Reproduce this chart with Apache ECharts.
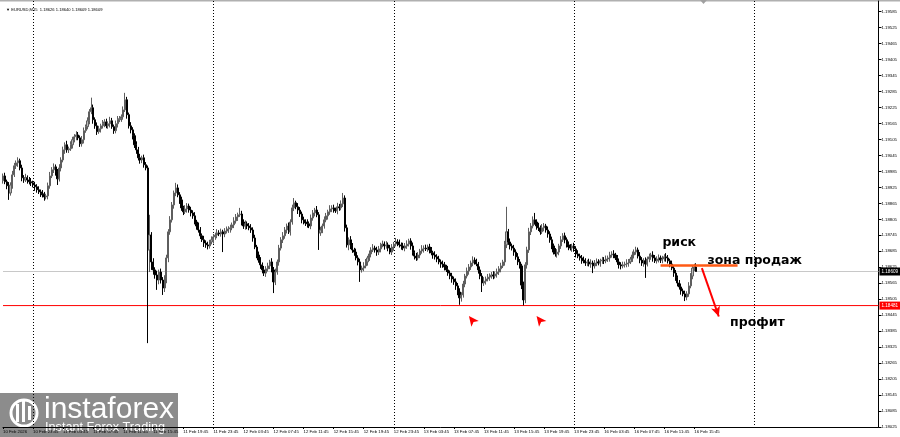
<!DOCTYPE html>
<html><head><meta charset="utf-8">
<script src="https://cdn.jsdelivr.net/npm/echarts@6/dist/echarts.min.js"></script>
<style>html,body{margin:0;padding:0;background:#fff}#c{width:900px;height:437px}</style>
</head><body><div id="c"></div>
<script>
// ---- data (prices in points: price = 1 + pts/100000) ----
const chartTitle = '\u25BC EURUSD,M15  1.18626 1.18640 1.18609 1.18609';
const tickLabels = ["10 Feb 2026","10 Feb 23:45","11 Feb 03:45","11 Feb 07:45","11 Feb 11:45","11 Feb 15:45","11 Feb 19:45","11 Feb 23:45","12 Feb 03:45","12 Feb 07:45","12 Feb 11:45","12 Feb 15:45","12 Feb 19:45","12 Feb 23:45","13 Feb 03:45","13 Feb 07:45","13 Feb 11:45","13 Feb 15:45","13 Feb 19:45","13 Feb 23:45","16 Feb 03:45","16 Feb 07:45","16 Feb 11:45","16 Feb 15:45"];
const openPts = [
18950,18968,18946,18931,18904,18934,18972,19006,19017,19025,
18998,18961,18953,18961,18953,18946,18942,18934,18927,18916,
18908,18901,18897,18889,18893,18931,18968,18991,19002,18983,
18957,18998,19028,19066,19085,19066,19070,19085,19104,19115,
19122,19111,19089,19104,19138,19153,19175,19209,19224,19179,
19156,19134,19145,19156,19164,19171,19156,19164,19175,19153,
19138,19164,19179,19183,19190,19216,19254,19198,19156,19141,
19119,19085,19066,19036,19028,19036,19010,18998,18690,18746,
18645,18615,18596,18577,18607,18577,18547,18577,18660,18758,
18803,18859,18904,18923,18897,18878,18848,18833,18844,18855,
18840,18829,18818,18795,18780,18765,18743,18728,18716,18709,
18705,18720,18728,18739,18746,18754,18750,18758,18750,18761,
18765,18769,18773,18784,18799,18814,18822,18825,18795,18780,
18788,18780,18773,18765,18735,18701,18671,18652,18634,18615,
18603,18619,18630,18645,18615,18570,18607,18645,18697,18728,
18743,18765,18780,18758,18795,18848,18867,18852,18840,18825,
18803,18795,18791,18788,18780,18810,18829,18840,18822,18754,
18765,18780,18803,18818,18833,18844,18848,18840,18837,18852,
18848,18863,18885,18773,18709,18728,18705,18690,18682,18660,
18645,18615,18622,18630,18645,18660,18675,18690,18697,18690,
18682,18694,18709,18712,18705,18709,18697,18682,18701,18712,
18720,18716,18709,18705,18697,18705,18712,18724,18705,18679,
18667,18660,18671,18686,18694,18697,18694,18701,18690,18679,
18671,18664,18656,18645,18637,18634,18626,18615,18603,18592,
18581,18570,18555,18532,18510,18521,18562,18592,18611,18626,
18641,18652,18645,18637,18615,18592,18566,18573,18581,18588,
18592,18596,18592,18600,18607,18619,18630,18645,18709,18758,
18720,18705,18697,18682,18664,18645,18630,18558,18502,18634,
18690,18758,18780,18803,18795,18780,18773,18758,18773,18780,
18765,18750,18728,18705,18682,18675,18682,18705,18728,18743,
18728,18709,18701,18697,18705,18694,18675,18667,18660,18652,
18649,18641,18645,18637,18641,18630,18641,18645,18641,18649,
18652,18649,18656,18660,18671,18675,18671,18660,18645,18634,
18630,18634,18637,18641,18645,18656,18671,18682,18690,18667,
18652,18641,18649,18637,18656,18664,18671,18660,18649,18656,
18660,18652,18656,18664,18660,18649,18637,18622,18603,18585,
18566,18551,18536,18525,18513,18525,18555,18592,18622,18626];
const closePts = [
18968,18946,18931,18904,18934,18972,19006,19017,19025,18998,
18961,18953,18961,18953,18946,18942,18934,18927,18916,18908,
18901,18897,18889,18893,18931,18968,18991,19002,18983,18957,
18998,19028,19066,19085,19066,19070,19085,19104,19115,19122,
19111,19089,19104,19138,19153,19175,19209,19224,19179,19156,
19134,19145,19156,19164,19171,19156,19164,19175,19153,19138,
19164,19179,19183,19190,19216,19254,19198,19156,19141,19119,
19085,19066,19036,19028,19036,19010,18998,18690,18746,18645,
18615,18596,18577,18607,18577,18547,18577,18660,18758,18803,
18859,18904,18923,18897,18878,18848,18833,18844,18855,18840,
18829,18818,18795,18780,18765,18743,18728,18716,18709,18705,
18720,18728,18739,18746,18754,18750,18758,18750,18761,18765,
18769,18773,18784,18799,18814,18822,18825,18795,18780,18788,
18780,18773,18765,18735,18701,18671,18652,18634,18615,18603,
18619,18630,18645,18615,18570,18607,18645,18697,18728,18743,
18765,18780,18758,18795,18848,18867,18852,18840,18825,18803,
18795,18791,18788,18780,18810,18829,18840,18822,18754,18765,
18780,18803,18818,18833,18844,18848,18840,18837,18852,18848,
18863,18885,18773,18709,18728,18705,18690,18682,18660,18645,
18615,18622,18630,18645,18660,18675,18690,18697,18690,18682,
18694,18709,18712,18705,18709,18697,18682,18701,18712,18720,
18716,18709,18705,18697,18705,18712,18724,18705,18679,18667,
18660,18671,18686,18694,18697,18694,18701,18690,18679,18671,
18664,18656,18645,18637,18634,18626,18615,18603,18592,18581,
18570,18555,18532,18510,18521,18562,18592,18611,18626,18641,
18652,18645,18637,18615,18592,18566,18573,18581,18588,18592,
18596,18592,18600,18607,18619,18630,18645,18709,18758,18720,
18705,18697,18682,18664,18645,18630,18558,18502,18634,18690,
18758,18780,18803,18795,18780,18773,18758,18773,18780,18765,
18750,18728,18705,18682,18675,18682,18705,18728,18743,18728,
18709,18701,18697,18705,18694,18675,18667,18660,18652,18649,
18641,18645,18637,18641,18630,18641,18645,18641,18649,18652,
18649,18656,18660,18671,18675,18671,18660,18645,18634,18630,
18634,18637,18641,18645,18656,18671,18682,18690,18667,18652,
18641,18649,18637,18656,18664,18671,18660,18649,18656,18660,
18652,18656,18664,18660,18649,18637,18622,18603,18585,18566,
18551,18536,18525,18513,18525,18555,18592,18622,18626,18609];
const upperWick = [
9,12,8,14,10,15,11,9,13,8, 12,10,15,9,11,14,8,12,10,13, 9,14,11,8,12,15,10,13,9,11, 14,10,12,9,15,8,13,11,10,14,
11,9,14,12,8,13,10,38,12,9, 13,11,8,14,10,12,9,15,11,8, 12,14,10,9,13,26,11,8,14,10, 9,13,11,15,8,12,10,9,76,11,
14,10,16,9,13,11,18,12,10,14, 11,9,19,13,10,12,8,14,11,9, 12,10,14,8,13,11,9,15,10,12, 8,13,11,9,14,10,12,8,11,13,
10,12,9,14,11,8,23,12,10,13, 9,11,14,10,12,8,13,11,9,15, 10,12,8,14,11,13,9,12,10,14, 11,9,13,10,12,18,8,14,11,9,
12,10,14,9,13,11,8,15,10,12, 9,13,11,8,14,10,12,9,15,11, 13,19,10,12,9,14,11,8,13,10, 12,9,14,11,8,13,10,15,9,12,
11,8,13,10,14,9,12,11,8,15, 10,13,9,12,11,14,8,10,13,9, 12,11,8,14,10,13,9,12,11,8, 14,10,12,9,13,11,8,15,10,12,
9,13,11,14,10,12,8,13,11,9, 14,10,12,8,13,11,15,9,12,10, 11,14,9,13,10,12,8,15,94,11, 13,9,12,10,14,11,8,13,10,12,
15,11,13,26,10,12,9,14,11,8, 13,10,12,9,15,11,8,14,10,12, 9,13,11,8,12,10,14,9,11,13, 10,8,12,14,9,11,13,10,8,12,
11,13,9,12,10,14,8,11,13,10, 12,9,14,11,8,13,10,12,9,15, 11,10,13,9,12,8,14,11,10,13, 9,12,10,14,11,8,13,10,12,9,
11,13,9,12,10,14,11,9,12,14];
const lowerWick = [
11,9,13,26,10,14,8,12,15,9, 13,11,8,14,10,12,9,15,11,8, 12,10,14,9,13,11,8,12,14,23, 10,13,9,15,11,12,8,14,10,13,
9,12,11,14,8,10,13,9,15,11, 12,8,14,10,13,9,11,14,8,12, 10,14,9,12,11,8,15,10,13,14, 12,15,10,14,12,11,9,350,83,30,
18,14,37,16,13,26,15,12,16,11, 10,14,12,9,15,11,12,8,14,10, 13,11,9,14,10,12,8,15,11,13, 10,9,14,11,12,8,10,68,12,9,
11,14,9,12,10,15,8,13,11,14, 12,9,11,14,8,12,10,15,13,11, 14,10,12,9,42,12,10,14,9,12, 11,13,8,14,10,12,9,15,11,13,
9,11,14,8,12,10,13,9,64,11, 12,10,9,14,11,12,10,8,13,11, 9,12,14,10,20,12,11,14,9,13, 45,10,12,9,14,11,13,8,10,14,
11,13,9,14,10,12,8,11,14,9, 12,10,14,8,12,11,9,14,10,13, 11,9,12,10,14,8,11,13,9,14, 10,12,9,14,11,13,8,10,12,14,
11,15,12,26,14,10,12,9,14,11, 12,10,8,14,12,34,11,13,9,14, 10,12,9,14,11,13,8,14,12,11, 13,9,14,11,12,10,15,20,12,14,
11,12,9,10,14,12,11,8,13,10, 14,11,12,9,10,14,12,11,8,13, 10,12,9,14,11,13,8,10,14,9, 11,12,9,14,27,10,12,9,14,11,
12,9,11,14,10,12,8,11,14,13, 9,10,12,14,8,11,13,10,9,12, 11,14,52,9,12,11,14,8,10,13, 11,12,9,14,10,12,8,14,11,13,
10,14,9,15,12,11,9,12,11,0];
const bidPrice = 1.18609;
const supportPrice = 1.18481;
const sellZonePrice = 1.18632;
const slotCount = 467;
const yMin = 1.18025, yMax = 1.19625, yStep = 0.0006;

// ---- build ----
const toPrice = p => 1 + p / 100000;
const candles = closePts.map((c, i) => {
  const o = openPts[i];
  return [toPrice(o), toPrice(c), toPrice(Math.min(o, c) - lowerWick[i]), toPrice(Math.max(o, c) + upperWick[i])];
});
while (candles.length < slotCount) candles.push('-');
const cats = Array.from({length: slotCount}, (_, i) => String(i));
const nBars = closePts.length;
const lastSlot = slotCount - 1;
const isTick = i => i % 16 === 0 && i < nBars;
const fontS = 'Liberation Sans, Arial, sans-serif';
const annFont = 'DejaVu Sans, Verdana, sans-serif';

// straight level line drawn as a plain line series through the axes
function levelSeries(name, color, width, price, fromIdx, toIdx, tag, z) {
  const s = {
    type: 'line', name, z: z || 3, silent: true, symbol: 'none', showSymbol: false,
    data: [[fromIdx, price], [toIdx, price]],
    lineStyle: {color, width, type: 'solid', opacity: 1}, itemStyle: {color},
    emphasis: {disabled: true}
  };
  if (tag) {
    s.endLabel = {show: true, formatter: tag.text, distance: 1, color: '#fff', backgroundColor: tag.bg, fontSize: 4.6, padding: [1.5, 2], fontFamily: fontS};
  }
  return s;
}

const chart = echarts.init(document.getElementById('c'), null, {renderer: 'canvas'});
chart.setOption({
  animation: false,
  backgroundColor: '#ffffff',
  title: {text: chartTitle, left: 1, top: 3, textStyle: {fontSize: 4.1, fontWeight: 'normal', color: '#000', fontFamily: 'Liberation Sans, DejaVu Sans'}},
  grid: {left: -2, right: 19, top: 1, bottom: 10},
  xAxis: {
    type: 'category', data: cats, boundaryGap: false,
    axisLine: {lineStyle: {color: '#000', width: 1}},
    axisTick: {show: true, length: 2, interval: (i) => isTick(i), lineStyle: {color: '#000'}},
    axisLabel: {interval: (i) => isTick(i), formatter: (v, i) => tickLabels[i / 16] || '', fontSize: 4.3, color: '#000', align: 'left', margin: 3, fontFamily: fontS},
    splitLine: {show: true, interval: (i) => i % 96 === 16, lineStyle: {color: '#000', type: [1, 2], width: 1}}
  },
  yAxis: {
    type: 'value', position: 'right', min: yMin, max: yMax, interval: yStep,
    axisLine: {show: true, lineStyle: {color: '#000', width: 1}},
    axisTick: {show: true, length: 3, lineStyle: {color: '#000'}},
    axisLabel: {formatter: v => v.toFixed(5), fontSize: 4.3, color: '#000', margin: 3, showMaxLabel: false, fontFamily: fontS},
    splitLine: {show: false}
  },
  series: [
    levelSeries('bid', '#c8c8c8', 1, bidPrice, 0, lastSlot, {text: '1.18609', bg: '#000'}),
    levelSeries('support', '#ff0000', 1, supportPrice, 0, lastSlot, {text: '1.18481', bg: '#ff0000'}),
    {
    type: 'candlestick', data: candles, barWidth: 1.6, z: 4,
    itemStyle: {color: '#b8b8b8', color0: '#000', borderColor: '#5e5e5e', borderColor0: '#000', borderWidth: 1},
    markPoint: {
      silent: true, animation: false,
      data: [
        {coord: [248, 1.18442], symbol: 'arrow', symbolSize: [7, 10], symbolRotate: 38, itemStyle: {color: '#ff0000'}, label: {show: false}},
        {coord: [284, 1.18442], symbol: 'arrow', symbolSize: [7, 10], symbolRotate: 38, itemStyle: {color: '#ff0000'}, label: {show: false}},
        {coord: [351, 1.18716], symbol: 'circle', symbolSize: 0, label: {show: true, position: 'right', distance: 0, formatter: 'риск', fontSize: 12.5, fontWeight: 'bold', color: '#000', fontFamily: annFont}},
        {coord: [375, 1.18648], symbol: 'circle', symbolSize: 0, label: {show: true, position: 'right', distance: 0, formatter: 'зона продаж', fontSize: 12.5, fontWeight: 'bold', color: '#000', fontFamily: annFont}},
        {coord: [387, 1.18416], symbol: 'circle', symbolSize: 0, label: {show: true, position: 'right', distance: 0, formatter: 'профит', fontSize: 12.5, fontWeight: 'bold', color: '#000', fontFamily: annFont}}
      ]
    }},
    levelSeries('sellZone', '#ff5a14', 2.5, sellZonePrice, 350, 391, null, 5),
    {
      type: 'line', name: 'arrow', data: [], silent: true, z: 5,
      markLine: {
        silent: true, animation: false, symbol: ['none', 'arrow'], symbolSize: [7, 10],
        lineStyle: {color: '#ff0000', width: 2, type: 'solid'}, itemStyle: {color: '#ff0000'}, label: {show: false},
        data: [[{coord: [372, 1.18622]}, {coord: [381, 1.18440]}]]
      }
    }
  ],
  graphic: [
    {type: 'rect', left: 0, top: 0, shape: {width: 900, height: 1.5}, style: {fill: '#b0b0b0'}, silent: true},
    {type: 'polygon', shape: {points: [[700, 0], [707, 0], [703.5, 4]]}, style: {fill: '#a0a0a0'}, silent: true},
    {type: 'group', left: 0, top: 393, silent: true, children: [
      {type: 'rect', shape: {x: 0, y: 0, width: 178, height: 44}, style: {fill: 'rgba(95,95,95,0.72)'}},
      {type: 'circle', shape: {cx: 24, cy: 20, r: 13}, style: {fill: 'none', stroke: '#fff', lineWidth: 3}},
      {type: 'rect', shape: {x: 16, y: 11, width: 3, height: 18}, style: {fill: '#fff'}},
      {type: 'rect', shape: {x: 22, y: 7, width: 3, height: 22}, style: {fill: '#fff'}},
      {type: 'rect', shape: {x: 28, y: 13, width: 3, height: 14}, style: {fill: '#fff'}},
      {type: 'text', x: 44, y: 2, style: {text: 'instaforex', fill: '#fff', font: '30px "Liberation Sans", Arial, sans-serif'}},
      {type: 'text', x: 45, y: 28, style: {text: 'Instant Forex Trading', fill: '#fff', font: '12.7px "Liberation Sans", Arial, sans-serif'}}
    ]}
  ]
});
</script></body></html>
